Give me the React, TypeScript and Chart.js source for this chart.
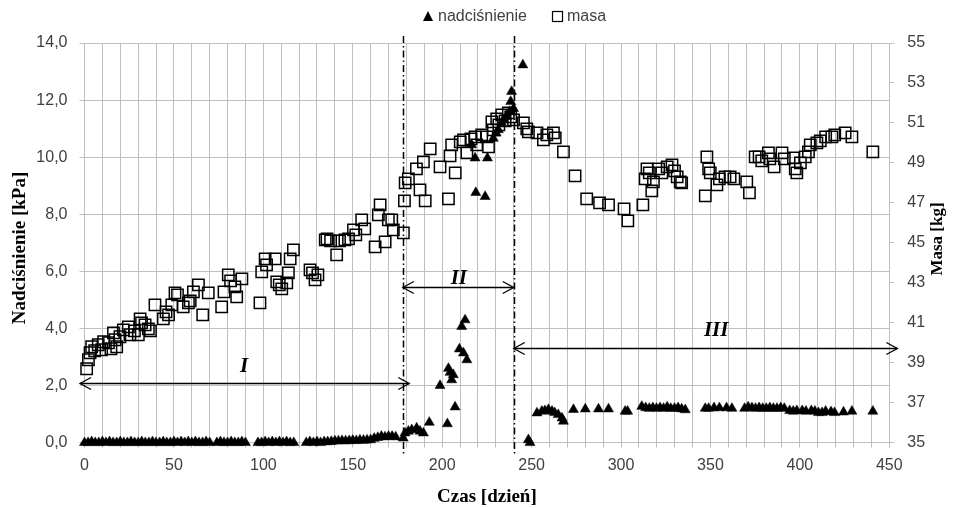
import { useEffect, useRef } from 'react';
import { Chart, registerables } from 'chart.js';

Chart.register(...registerables);

// ---- data ----
const seriesNames = ['nadciśnienie', 'masa'];
const xAxisTitle = 'Czas [dzień]';
const leftAxisTitle = 'Nadciśnienie [kPa]';
const rightAxisTitle = 'Masa [kg]';

const pressureDays = [
  0, 2, 4, 6, 8, 10, 12, 14, 16, 18, 20, 22, 24, 26, 28, 30, 32, 34, 36, 38, 40, 42, 44, 46, 48, 50, 52, 54, 56, 58, 60, 62, 64, 66, 68, 70,
  74, 76, 78, 80, 82, 84, 86, 88, 90,
  97, 99, 101, 103, 105, 107, 109, 111, 113, 115, 117,
  124, 126, 128, 130, 132, 134, 136, 138, 140, 142, 144, 146, 148, 150, 152, 154, 156, 158, 160, 162, 164, 166, 168, 170, 172, 174,
  178.2, 179.2, 181.1, 183.0, 185.7, 187.6, 189.5, 192.8, 198.8, 202.9, 203.5, 204.4, 205.3, 206.2, 207.2, 209.6, 210.9, 211.9, 212.8, 213.8,
  216.5, 218.4, 218.8, 224.0, 225.3, 228.6, 230.2, 231.4, 233.3, 234.2, 236.0, 237.7, 238.3, 238.8, 239.9, 245.1,
  248.2, 249.1, 253.0, 255.7, 257.4, 259.4, 261.4, 262.9, 264.9, 267.0, 267.8, 273.4, 280.0, 287.4, 293.0, 302.3, 303.7,
  311.6, 313.8, 315.8, 317.8, 319.8, 321.8, 323.8, 325.8, 327.8, 329.9, 331.9, 333.9, 335.9,
  347.1, 349.0, 352.0, 355.0, 359.0, 362.0,
  369.1, 371.1, 373.2, 375.2, 377.2, 379.2, 381.2, 383.2, 385.2, 387.2, 389.3, 391.3,
  394.3, 396.3, 398.3, 401.3, 403.4, 406.4, 408.4, 410.4, 412.4, 414.4, 417.4, 419.4, 424.4, 429.1, 440.8,
];
const pressureValues = [
  0.0, 0.0, 0.03, 0.0, 0.0, 0.03, 0.0, 0.03, 0.0, 0.0, 0.03, 0.0, 0.0, 0.03, 0.0, 0.0, 0.03, 0.0, 0.0, 0.03, 0.0, 0.0, 0.03, 0.0, 0.0, 0.03, 0.0, 0.03, 0.0, 0.03, 0.0, 0.03, 0.0, 0.0, 0.03, 0.0,
  0.0, 0.03, 0.0, 0.0, 0.03, 0.0, 0.0, 0.03, 0.0,
  0.0, 0.0, 0.03, 0.0, 0.03, 0.0, 0.03, 0.0, 0.03, 0.0, 0.0,
  0.0, 0.03, 0.0, 0.03, 0.0, 0.03, 0.03, 0.04, 0.06, 0.06, 0.07, 0.06, 0.07, 0.08, 0.07, 0.09, 0.08, 0.09, 0.1, 0.15, 0.18, 0.22, 0.2, 0.22, 0.22, 0.2,
  0.16, 0.34, 0.4, 0.45, 0.51, 0.4, 0.34, 0.71, 2.0, 0.66, 2.6, 2.46, 2.2, 2.38, 1.25, 3.28, 4.07, 3.14, 4.3, 2.9,
  10.43, 9.97, 8.76, 8.62, 9.97, 10.66, 10.84, 10.96, 11.19, 11.3, 11.42, 11.6, 11.95, 12.3, 11.7, 13.23,
  0.1, 0.0, 1.04, 1.1, 1.12, 1.16, 1.1, 1.05, 0.98, 0.86, 0.75, 1.16, 1.18, 1.18, 1.18, 1.1, 1.1,
  1.27, 1.22, 1.2, 1.22, 1.2, 1.22, 1.2, 1.25, 1.2, 1.2, 1.22, 1.18, 1.15,
  1.2, 1.2, 1.22, 1.22, 1.22, 1.2,
  1.2, 1.25, 1.22, 1.2, 1.22, 1.2, 1.2, 1.22, 1.2, 1.2, 1.22, 1.2,
  1.12, 1.1, 1.12, 1.12, 1.1, 1.12, 1.1, 1.05, 1.05, 1.1, 1.08, 1.05, 1.07, 1.1, 1.1,
];

const massDays = [
  1.2, 2.2, 3.1, 4.0, 5.7, 7.7, 9.6, 10.7, 13.4, 14.8, 16.2, 17.1, 18.0, 19.8, 21.7, 24.5, 25.4, 27.9, 30.1, 31.1,
  31.9, 33.9, 35.7, 36.9, 39.4, 44.1, 45.6, 47.0, 48.8, 50.6, 52.0, 55.2, 58.1, 59.1, 60.9, 63.7, 66.1, 69.2, 76.7, 78.0,
  80.4, 81.7, 84.1, 85.1, 88.0, 98.1, 99.1, 101.0, 101.8, 106.6, 107.5, 108.9, 110.3, 113.1, 114.0, 115.0, 116.8, 126.1, 127.5, 128.9,
  130.5, 134.6, 135.6, 137.6, 141.0, 142.6, 145.6, 147.6, 150.4, 151.7, 155.0, 156.7, 162.5, 164.3, 165.3, 168.1, 169.9, 171.8, 172.7, 178.3,
  178.9, 179.3, 181.1, 185.6, 187.6, 189.5, 190.5, 193.3, 198.8, 203.5, 204.4, 205.3, 207.3, 210.1, 211.9, 213.8, 216.1, 218.4, 219.3, 222.1,
  225.0, 225.9, 227.8, 228.6, 230.5, 231.7, 233.3, 235.2, 237.0, 238.3, 239.9, 245.4, 247.3, 248.2, 253.0, 256.6, 258.5, 262.2, 263.2, 267.8,
  274.3, 280.8, 288.0, 293.0, 301.7, 303.8, 312.2, 313.5, 314.5, 315.8, 317.2, 318.1, 321.0, 322.8, 325.8, 328.5, 329.9, 331.4, 333.1, 333.9,
  347.1, 348.0, 349.0, 349.9, 353.6, 355.0, 358.1, 361.0, 363.1, 370.3, 371.8, 375.0, 377.2, 378.7, 382.4, 383.2, 385.6, 390.0, 391.3, 396.4,
  397.4, 398.3, 400.3, 403.0, 404.8, 405.8, 409.5, 411.4, 414.4, 417.9, 419.5, 425.3, 429.1, 440.8,
];
const massValues = [
  38.7, 39.15, 39.5, 39.8, 39.6, 39.9, 39.65, 40.05, 40.0, 39.7, 40.5, 40.15, 39.8, 40.3, 40.65, 40.8, 40.4, 40.6, 40.4, 41.2,
  41.0, 40.9, 40.7, 40.6, 41.9, 41.2, 41.55, 41.4, 41.9, 42.5, 42.4, 41.8, 42.0, 42.1, 42.55, 42.9, 41.4, 42.5, 41.8, 42.55,
  43.4, 43.1, 42.8, 42.3, 43.2, 42.0, 43.55, 44.2, 43.9, 44.2, 43.05, 42.9, 42.7, 43.0, 43.5, 44.2, 44.65, 43.65, 43.5, 43.15,
  43.4, 45.15, 45.2, 45.1, 44.4, 45.1, 45.15, 45.2, 45.65, 45.4, 46.15, 45.7, 44.8, 46.4, 46.9, 45.05, 46.15, 46.15, 45.65, 45.5,
  47.1, 48.0, 48.2, 48.7, 47.65, 49.05, 47.1, 49.7, 48.8, 47.2, 49.35, 49.9, 48.5, 50.05, 50.15, 49.5, 50.2, 50.3, 49.9, 50.4,
  50.3, 49.8, 51.05, 50.65, 51.2, 50.9, 51.4, 51.1, 51.5, 51.3, 51.15, 51.0, 50.7, 50.55, 50.5, 50.15, 50.4, 50.5, 50.25, 49.55,
  48.35, 47.2, 47.0, 46.9, 46.7, 46.1, 46.9, 48.2, 48.7, 48.5, 47.6, 48.05, 48.7, 48.5, 48.8, 48.9, 48.6, 48.3, 48.05, 48.0,
  47.35, 49.3, 48.7, 48.5, 47.9, 48.2, 48.3, 48.3, 48.2, 48.05, 47.5, 49.3, 49.3, 49.1, 49.5, 49.2, 48.8, 49.5, 49.2, 49.25,
  48.7, 48.5, 49.0, 49.3, 49.55, 49.9, 50.0, 50.1, 50.3, 50.3, 50.4, 50.5, 50.3, 49.55,
];

// phase boundaries (days) and annotations
const phaseBoundaries = [178, 240];
const phaseLabels = ['I', 'II', 'III'];
const phaseArrowStart = [-2.5, 178, 240];
const phaseArrowEnd = [181.6, 240, 454.5];
const phaseArrowLevel = [2.08, 5.44, 3.31];
const phaseLabelDay = [89.2, 209.3, 353.2];
const phaseLabelLevel = [2.65, 5.76, 3.92];

const SANS = '"Liberation Sans", Arial, sans-serif';
const SERIF = '"Liberation Serif", "Times New Roman", serif';
const GRID = '#bfbfbf';
const TEXT = '#404040';

function drawArrowHead(ctx: CanvasRenderingContext2D, x: number, y: number, dir: number) {
  ctx.beginPath();
  ctx.moveTo(x - dir * 11, y - 6);
  ctx.lineTo(x, y);
  ctx.lineTo(x - dir * 11, y + 6);
  ctx.stroke();
}

const overlayPlugin = {
  id: 'overlay',
  afterDraw(chart: any) {
    const ctx: CanvasRenderingContext2D = chart.ctx;
    const xs = chart.scales.x;
    const ys = chart.scales.y;
    const area = chart.chartArea;
    ctx.save();
    // phase boundaries
    ctx.strokeStyle = '#000';
    ctx.lineWidth = 1.5;
    ctx.setLineDash([7, 3, 1.5, 3]);
    phaseBoundaries.forEach((d) => {
      const px = Math.round(xs.getPixelForValue(d)) + 0.5;
      ctx.beginPath();
      ctx.moveTo(px, area.top - 7);
      ctx.lineTo(px, area.bottom + 12);
      ctx.stroke();
    });
    ctx.setLineDash([]);
    // arrows
    ctx.lineWidth = 1.3;
    phaseLabels.forEach((lab, i) => {
      const x1 = xs.getPixelForValue(phaseArrowStart[i]);
      const x2 = xs.getPixelForValue(phaseArrowEnd[i]);
      const y = Math.round(ys.getPixelForValue(phaseArrowLevel[i])) + 0.5;
      ctx.beginPath();
      ctx.moveTo(x1, y);
      ctx.lineTo(x2, y);
      ctx.stroke();
      drawArrowHead(ctx, x1, y, -1);
      drawArrowHead(ctx, x2, y, 1);
      ctx.fillStyle = '#000';
      ctx.font = `italic bold 21px ${SERIF}`;
      ctx.textAlign = 'center';
      ctx.textBaseline = 'middle';
      ctx.fillText(lab, xs.getPixelForValue(phaseLabelDay[i]), ys.getPixelForValue(phaseLabelLevel[i]));
    });
    // axis titles
    ctx.fillStyle = '#000';
    ctx.font = `bold 19px ${SERIF}`;
    ctx.textAlign = 'center';
    ctx.textBaseline = 'middle';
    ctx.fillText(xAxisTitle, (area.left + area.right) / 2, 497);
    ctx.save();
    ctx.translate(20, 248);
    ctx.rotate(-Math.PI / 2);
    ctx.fillText(leftAxisTitle, 0, 0);
    ctx.restore();
    ctx.save();
    ctx.font = `bold 17px ${SERIF}`;
    ctx.translate(938, 239);
    ctx.rotate(-Math.PI / 2);
    ctx.fillText(rightAxisTitle, 0, 0);
    ctx.restore();
    // legend
    const ly = 17;
    ctx.fillStyle = '#000';
    ctx.beginPath();
    ctx.moveTo(428, ly - 6);
    ctx.lineTo(433, ly + 4);
    ctx.lineTo(423, ly + 4);
    ctx.closePath();
    ctx.fill();
    ctx.font = `16px ${SANS}`;
    ctx.textAlign = 'left';
    ctx.fillStyle = TEXT;
    ctx.fillText(seriesNames[0], 438, ly);
    ctx.strokeStyle = '#000';
    ctx.lineWidth = 1.2;
    ctx.strokeRect(552.5, ly - 5.5, 10, 10);
    ctx.fillText(seriesNames[1], 567, ly);
    ctx.restore();
  },
};

export default function App() {
  const ref = useRef<HTMLCanvasElement>(null);
  useEffect(() => {
    const chart = new Chart(ref.current as HTMLCanvasElement, {
      type: 'scatter',
      data: {
        datasets: [
          {
            label: seriesNames[0],
            data: pressureDays.map((d, i) => ({ x: d, y: pressureValues[i] })),
            yAxisID: 'y',
            pointStyle: 'triangle',
            pointRadius: 5.8,
            pointBackgroundColor: '#000',
            pointBorderColor: '#000',
            pointBorderWidth: 0.5,
            clip: false as any,
          },
          {
            label: seriesNames[1],
            data: massDays.map((d, i) => ({ x: d, y: massValues[i] })),
            yAxisID: 'y2',
            pointStyle: 'rect',
            pointRadius: 8,
            pointBackgroundColor: 'rgba(0,0,0,0)',
            pointBorderColor: '#000',
            pointBorderWidth: 1.5,
            clip: false as any,
          },
        ],
      },
      options: {
        animation: false,
        responsive: true,
        maintainAspectRatio: false,
        layout: { padding: { top: 43, left: 0, right: 0, bottom: 0 } },
        plugins: { legend: { display: false }, tooltip: { enabled: false } },
        font: { family: SANS },
        scales: {
          x: {
            type: 'linear',
            min: 0,
            max: 450,
            afterFit: (s: any) => { s.height = 65.3; },
            ticks: {
              stepSize: 10,
              autoSkip: false,
              maxRotation: 0,
              padding: 8,
              color: TEXT,
              font: { family: SANS, size: 16 },
              callback: (v: any) => (Number(v) % 50 === 0 ? String(v) : ''),
            },
            grid: { color: GRID, lineWidth: 1, tickLength: 5, tickColor: GRID },
            border: { color: GRID },
          },
          y: {
            type: 'linear',
            position: 'left',
            min: 0,
            max: 14,
            afterFit: (s: any) => { s.width = 84.5; },
            ticks: {
              stepSize: 2,
              padding: 12,
              color: TEXT,
              font: { family: SANS, size: 16 },
              callback: (v: any) => Number(v).toFixed(1).replace('.', ','),
            },
            grid: { color: GRID, lineWidth: 1, tickLength: 5, tickColor: GRID },
            border: { color: GRID },
          },
          y2: {
            type: 'linear',
            position: 'right',
            min: 35,
            max: 55,
            afterFit: (s: any) => { s.width = 63.7; },
            ticks: {
              stepSize: 2,
              padding: 13,
              color: TEXT,
              font: { family: SANS, size: 16 },
            },
            grid: { drawOnChartArea: false, tickLength: 5, color: GRID, tickColor: GRID },
            border: { color: GRID },
          },
        },
      },
      plugins: [overlayPlugin],
    });
    return () => chart.destroy();
  }, []);
  return (
    <div style={{ position: 'fixed', left: 0, top: 0, width: 953, height: 508, background: '#fff' }}>
      <canvas ref={ref} />
    </div>
  );
}
